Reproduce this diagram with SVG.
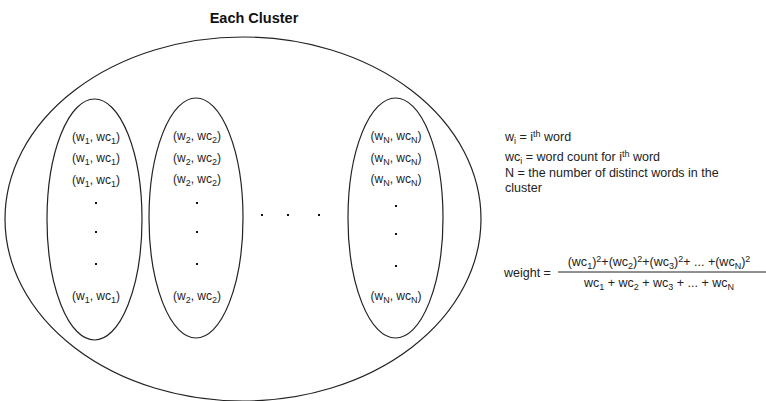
<svg xmlns="http://www.w3.org/2000/svg" width="766" height="401" viewBox="0 0 766 401">
<style>
.e{fill:none;stroke:#222;stroke-width:1.2}
.t{font-family:"Liberation Sans",Arial,sans-serif;font-size:12px;fill:#222}
.r{font-size:12.5px}
.c{text-anchor:middle}
.s{font-size:9px}
.title{font-family:"Liberation Sans",Arial,sans-serif;font-size:14.5px;font-weight:bold;fill:#111;text-anchor:middle}
.d{fill:#111}
</style>
<rect width="766" height="401" fill="#fff"/>
<text class="title" x="254" y="23">Each Cluster</text>
<g id="cluster">
<ellipse class="e" cx="243" cy="219" rx="238" ry="182"/>
</g>
<g id="col1">
<ellipse class="e" cx="94.5" cy="219.5" rx="47.5" ry="120.5"/>
<text class="t c" x="96" y="141">(w<tspan class="s" dy="3">1</tspan><tspan dy="-3">, wc</tspan><tspan class="s" dy="3">1</tspan><tspan dy="-3">)</tspan></text>
<text class="t c" x="96" y="162">(w<tspan class="s" dy="3">1</tspan><tspan dy="-3">, wc</tspan><tspan class="s" dy="3">1</tspan><tspan dy="-3">)</tspan></text>
<text class="t c" x="96" y="184">(w<tspan class="s" dy="3">1</tspan><tspan dy="-3">, wc</tspan><tspan class="s" dy="3">1</tspan><tspan dy="-3">)</tspan></text>
<rect class="d" x="95" y="202" width="2" height="2"/>
<rect class="d" x="95" y="231" width="2" height="2"/>
<rect class="d" x="95" y="263" width="2" height="2"/>
<text class="t c" x="96" y="300">(w<tspan class="s" dy="3">1</tspan><tspan dy="-3">, wc</tspan><tspan class="s" dy="3">1</tspan><tspan dy="-3">)</tspan></text>
</g>
<g id="col2">
<ellipse class="e" cx="196" cy="218" rx="47" ry="120"/>
<text class="t c" x="197" y="140">(w<tspan class="s" dy="3">2</tspan><tspan dy="-3">, wc</tspan><tspan class="s" dy="3">2</tspan><tspan dy="-3">)</tspan></text>
<text class="t c" x="197" y="162">(w<tspan class="s" dy="3">2</tspan><tspan dy="-3">, wc</tspan><tspan class="s" dy="3">2</tspan><tspan dy="-3">)</tspan></text>
<text class="t c" x="197" y="183">(w<tspan class="s" dy="3">2</tspan><tspan dy="-3">, wc</tspan><tspan class="s" dy="3">2</tspan><tspan dy="-3">)</tspan></text>
<rect class="d" x="196" y="202" width="2" height="2"/>
<rect class="d" x="196" y="231" width="2" height="2"/>
<rect class="d" x="196" y="263" width="2" height="2"/>
<text class="t c" x="197" y="300">(w<tspan class="s" dy="3">2</tspan><tspan dy="-3">, wc</tspan><tspan class="s" dy="3">2</tspan><tspan dy="-3">)</tspan></text>
</g>
<g id="gap">
<rect class="d" x="261" y="214" width="2" height="2"/>
<rect class="d" x="287" y="214" width="2" height="2"/>
<rect class="d" x="318" y="214" width="2" height="2"/>
</g>
<g id="colN">
<ellipse class="e" cx="395.5" cy="218" rx="47.5" ry="120"/>
<text class="t c" x="396" y="140">(w<tspan class="s" dy="3">N</tspan><tspan dy="-3">, wc</tspan><tspan class="s" dy="3">N</tspan><tspan dy="-3">)</tspan></text>
<text class="t c" x="396" y="162">(w<tspan class="s" dy="3">N</tspan><tspan dy="-3">, wc</tspan><tspan class="s" dy="3">N</tspan><tspan dy="-3">)</tspan></text>
<text class="t c" x="396" y="183">(w<tspan class="s" dy="3">N</tspan><tspan dy="-3">, wc</tspan><tspan class="s" dy="3">N</tspan><tspan dy="-3">)</tspan></text>
<rect class="d" x="395" y="205" width="2" height="2"/>
<rect class="d" x="395" y="233" width="2" height="2"/>
<rect class="d" x="395" y="265" width="2" height="2"/>
<text class="t c" x="396" y="300">(w<tspan class="s" dy="3">N</tspan><tspan dy="-3">, wc</tspan><tspan class="s" dy="3">N</tspan><tspan dy="-3">)</tspan></text>
</g>
<g id="legend">
<text class="t r" x="505" y="141">w<tspan class="s" dy="3">i</tspan><tspan dy="-3"> = i</tspan><tspan class="s" dy="-4">th</tspan><tspan dy="4"> word</tspan></text>
<text class="t r" x="505" y="161">wc<tspan class="s" dy="3">i</tspan><tspan dy="-3"> = word count for i</tspan><tspan class="s" dy="-4">th</tspan><tspan dy="4"> word</tspan></text>
<text class="t r" x="505" y="177">N = the number of distinct words in the</text>
<text class="t r" x="505" y="192">cluster</text>
</g>
<g id="formula">
<text class="t r" x="504" y="277">weight =</text>
<line x1="558" y1="272" x2="766" y2="272" stroke="#222" stroke-width="1"/>
<text class="t r c" x="659" y="266">(wc<tspan class="s" dy="3">1</tspan><tspan dy="-3">)</tspan><tspan class="s" dy="-4">2</tspan><tspan dy="4">+(wc</tspan><tspan class="s" dy="3">2</tspan><tspan dy="-3">)</tspan><tspan class="s" dy="-4">2</tspan><tspan dy="4">+(wc</tspan><tspan class="s" dy="3">3</tspan><tspan dy="-3">)</tspan><tspan class="s" dy="-4">2</tspan><tspan dy="4">+ ... +(wc</tspan><tspan class="s" dy="3">N</tspan><tspan dy="-3">)</tspan><tspan class="s" dy="-4">2</tspan></text>
<text class="t r c" x="659" y="287">wc<tspan class="s" dy="3">1</tspan><tspan dy="-3"> + wc</tspan><tspan class="s" dy="3">2</tspan><tspan dy="-3"> + wc</tspan><tspan class="s" dy="3">3</tspan><tspan dy="-3"> + ... + wc</tspan><tspan class="s" dy="3">N</tspan></text>
</g>
</svg>
